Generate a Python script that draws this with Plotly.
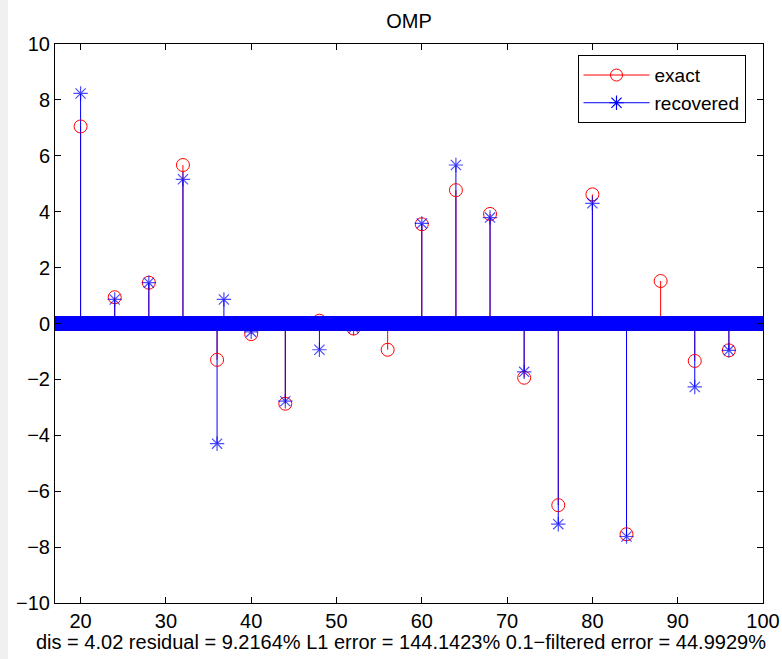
import numpy as np
import plotly.graph_objects as go

# grid of sample positions
x_start, x_end, x_step = 17.0, 100.0, 0.05

# nonzero entries of exact signal
exact_pos = [20, 24, 28, 32, 36, 40, 44, 48, 52, 56, 60, 64, 68, 72, 76, 80, 84, 88, 92, 96]
exact_val = [7.05, 0.94, 1.46, 5.67, -1.30, -0.38, -2.87, 0.10, -0.18, -0.94, 3.55, 4.77, 3.92, -1.94, -6.50, 4.62, -7.54, 1.52, -1.34, -0.96]

# nonzero entries of recovered signal
rec_pos = [20, 24, 28, 32, 36, 36.8, 40, 44, 48, 52, 60, 64, 68, 72, 76, 80, 84, 92, 96]
rec_val = [8.23, 0.86, 1.46, 5.16, -4.30, 0.86, -0.30, -2.78, -0.94, -0.16, 3.58, 5.67, 3.79, -1.73, -7.18, 4.30, -7.62, -2.27, -0.96]

title_text = "OMP"
xlabel_text = "dis = 4.02 residual = 9.2164% L1 error = 144.1423% 0.1\u2212filtered error = 44.9929%"
x_ticks = [20, 30, 40, 50, 60, 70, 80, 90, 100]
y_ticks = [-10, -8, -6, -4, -2, 0, 2, 4, 6, 8, 10]

grid = np.round(np.arange(x_start, x_end + x_step / 2, x_step), 2)


def full_signal(pos, val):
    y = np.zeros_like(grid)
    for p, v in zip(pos, val):
        idx = int(np.argmin(np.abs(grid - p)))
        y[idx] = v
    return y


exact_y = full_signal(exact_pos, exact_val)
rec_y = full_signal(rec_pos, rec_val)


def stems(pos, val):
    xs, ys = [], []
    for p, v in zip(pos, val):
        xs += [p, p, None]
        ys += [0, v, None]
    return xs, ys


RED = "#ff0000"
BLUE = "#0000ff"
FONT = "Liberation Sans, Arial, Helvetica, sans-serif"
FS = 20
LFS = 19

fig = go.Figure()

ex_x, ex_y = stems(exact_pos, exact_val)
rc_x, rc_y = stems(rec_pos, rec_val)

# stems
fig.add_trace(go.Scatter(x=ex_x, y=ex_y, mode="lines", line=dict(color=RED, width=1),
                         showlegend=False, hoverinfo="skip"))
fig.add_trace(go.Scatter(x=rc_x, y=rc_y, mode="lines", line=dict(color=BLUE, width=1),
                         showlegend=False, hoverinfo="skip"))
# baseline
fig.add_trace(go.Scatter(x=[x_start, x_end], y=[0, 0], mode="lines", line=dict(color=RED, width=1),
                         showlegend=False, hoverinfo="skip"))
# markers
rec_lw = np.where(rec_y == 0, 2.0, 1.2)
rec_sz = np.where(rec_y == 0, 12, 12)
fig.add_trace(go.Scatter(x=grid, y=exact_y, mode="markers",
                         marker=dict(symbol="circle-open", size=13, color=RED, line=dict(width=1, color=RED)),
                         showlegend=False, name="exact"))
fig.add_trace(go.Scatter(x=grid, y=rec_y, mode="markers",
                         marker=dict(symbol="asterisk-open", size=rec_sz, color=BLUE, line=dict(width=rec_lw, color=BLUE)),
                         showlegend=False, name="recovered"))

# legend entries
fig.add_trace(go.Scatter(x=[None], y=[None], mode="lines+markers", name="exact",
                         line=dict(color=RED, width=1),
                         marker=dict(symbol="circle-open", size=12, color=RED, line=dict(width=1, color=RED))))
fig.add_trace(go.Scatter(x=[None], y=[None], mode="lines+markers", name="recovered",
                         line=dict(color=BLUE, width=1),
                         marker=dict(symbol="asterisk-open", size=12, color=BLUE, line=dict(width=1.2, color=BLUE))))

axis_common = dict(showgrid=False, zeroline=False, showline=True, linecolor="black", linewidth=1,
                   mirror="ticks", ticks="inside", ticklen=6, tickcolor="black", automargin=False,
                   tickfont=dict(family=FONT, size=FS, color="black"))

fig.update_layout(
    width=782, height=659,
    margin=dict(l=55, r=19, t=44, b=56),
    paper_bgcolor="white", plot_bgcolor="white",
    title=dict(text=title_text, x=0.523, xanchor="center", y=0.968, yanchor="middle",
               font=dict(family=FONT, size=FS, color="black")),
    xaxis=dict(range=[x_start, x_end], tickvals=x_ticks, ticktext=[str(t) for t in x_ticks],
               **axis_common),
    yaxis=dict(range=[-10, 10], tickvals=y_ticks,
               ticktext=[str(t).replace("-", "\u2212") for t in y_ticks], **axis_common),
    legend=dict(x=0.738, y=0.980, xanchor="left", yanchor="top",
                bgcolor="white", bordercolor="black", borderwidth=1,
                font=dict(family=FONT, size=LFS, color="black"),
                itemwidth=66, tracegroupgap=0),
    annotations=[dict(text=xlabel_text, xref="paper", yref="paper", x=(401 - 55) / 708,
                      y=(603 - 642) / 559, xanchor="center", yanchor="middle", showarrow=False,
                      font=dict(family=FONT, size=FS, color="black"))],
    shapes=[dict(type="rect", xref="paper", yref="paper", x0=-55 / 708, x1=-47 / 708, y0=-1, y1=2,
                 fillcolor="#f0f0f0", line=dict(width=0), layer="below")],
)

fig.write_html("out.html", config={"displayModeBar": False},
               post_script="document.body.style.margin='0px';")
